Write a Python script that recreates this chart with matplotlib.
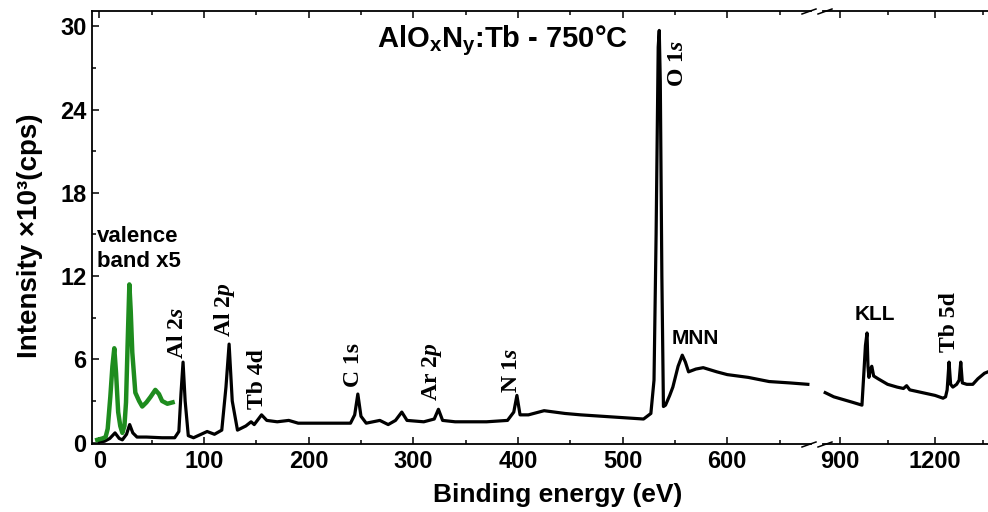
import matplotlib
matplotlib.use("Agg")
import matplotlib.pyplot as plt
from matplotlib.lines import Line2D
from matplotlib.ticker import MultipleLocator

plt.rcParams["font.family"] = "Liberation Sans"
plt.rcParams["font.weight"] = "bold"
plt.rcParams["mathtext.fontset"] = "custom"
plt.rcParams["mathtext.rm"] = "Liberation Sans:bold"
plt.rcParams["mathtext.bf"] = "Liberation Sans:bold"
plt.rcParams["mathtext.it"] = "Liberation Serif:bold:italic"

# espectro survey, tramo bajo (eV, cps x10^3)
low_ev = [0, 5, 10, 15, 19, 22, 26, 29, 32, 36, 45, 60, 72, 76, 78, 80, 82, 85, 90,
          103, 110, 117, 121, 124, 127, 132, 140, 145, 148, 155, 160, 170, 181, 190,
          210, 240, 244, 247, 250, 255, 268, 276, 283, 289, 294, 310, 320, 324, 328,
          340, 370, 390, 396, 399, 402, 410, 425, 445, 460, 480, 500, 520, 527, 530,
          532, 534, 535, 536, 537.5, 539, 541, 545, 548, 553, 557, 560, 563, 570, 577,
          590, 600, 620, 640, 660, 677]
low_int = [0.05, 0.1, 0.3, 0.7, 0.3, 0.2, 0.6, 1.3, 0.7, 0.4, 0.4, 0.35, 0.35, 0.8, 3.5, 5.8, 3.0, 0.5, 0.35,
           0.8, 0.6, 0.9, 4.0, 7.1, 3.0, 0.9, 1.2, 1.5, 1.3, 2.0, 1.6, 1.5, 1.6, 1.4,
           1.4, 1.4, 2.0, 3.5, 1.9, 1.4, 1.6, 1.3, 1.6, 2.2, 1.6, 1.5, 1.7, 2.4, 1.6,
           1.5, 1.5, 1.6, 2.2, 3.4, 2.0, 2.0, 2.3, 2.1, 2.0, 1.9, 1.8, 1.7, 2.1, 4.5,
           15.0, 28.5, 29.7, 26.0, 12.0, 2.6, 2.7, 3.4, 4.0, 5.5, 6.3, 5.8, 5.1, 5.3, 5.4,
           5.1, 4.9, 4.7, 4.4, 4.3, 4.2]

# tramo alto (despues del corte)
high_ev = [853, 880, 910, 940, 969, 975, 980, 985, 988, 991, 996, 1000, 1006, 1020, 1050,
           1080, 1100, 1110, 1120, 1160, 1200, 1225, 1233, 1238, 1244, 1249, 1256, 1268,
           1276, 1281, 1286, 1300, 1319, 1335, 1356, 1367]
high_int = [3.6, 3.3, 3.1, 2.9, 2.7, 5.0, 7.0, 7.9, 5.5, 4.7, 5.3, 5.5, 4.8, 4.6, 4.2,
            4.0, 3.9, 4.1, 3.8, 3.6, 3.4, 3.2, 3.3, 3.8, 5.8, 4.2, 4.0, 4.2,
            4.5, 5.8, 4.3, 4.2, 4.2, 4.6, 5.0, 5.1]

# banda de valencia x5
vb_ev = [-2, 3, 6, 8, 10.5, 12.5, 14.3, 16, 18, 20, 22, 24, 25.5, 27, 28.7, 30, 31.5,
         34.4, 38, 41, 45, 49, 53.5, 57, 60, 65, 70]
vb_int = [0.2, 0.3, 0.4, 1.0, 3.3, 5.5, 6.8, 5.0, 2.2, 1.2, 0.7, 1.2, 2.9, 7.0, 11.4, 9.5, 6.5,
          3.6, 3.0, 2.6, 2.9, 3.3, 3.8, 3.5, 3.0, 2.8, 2.9]

# etiquetas de picos: (texto, x, y)
low_peaks = [("Al 2$s$", 75, 6.0), ("Al 2$p$", 120, 7.6), ("Tb 4d", 151, 2.4),
             ("C 1s", 243, 4.0), ("Ar 2$p$", 318, 3.0), ("N 1$s$", 394, 3.6),
             ("O 1$s$", 552, 25.6)]
high_peaks = [("Tb 5d", 1244, 6.5)]

W, H = 988, 512
fig = plt.figure(figsize=(W / 100, H / 100), dpi=100)
ax1 = fig.add_axes([92 / W, 68 / H, (811 - 92) / W, 433 / H])
ax2 = fig.add_axes([823 / W, 68 / H, (W - 823) / W, 433 / H])

ax1.plot(low_ev, low_int, color="black", lw=2.3)
ax1.plot(vb_ev, vb_int, color="#1e8c1e", lw=3.2)
ax2.plot(high_ev, high_int, color="black", lw=2.3)

for ax in (ax1, ax2):
    ax.set_ylim(-0.1, 31.1)
    for s in ax.spines.values():
        s.set_linewidth(1.3)
    ax.tick_params(which="both", direction="in", top=True, labelsize=17, width=1.1)
    ax.tick_params(which="major", length=5, pad=4)
    ax.tick_params(which="minor", length=3)

ax1.set_xlim(-7, 680)
ax1.xaxis.set_major_locator(MultipleLocator(100))
ax1.xaxis.set_minor_locator(MultipleLocator(50))
ax1.yaxis.set_major_locator(MultipleLocator(6))
ax1.yaxis.set_minor_locator(MultipleLocator(3))
ax1.spines["right"].set_visible(False)

ax2.set_xlim(846, 1367)
ax2.xaxis.set_major_locator(MultipleLocator(300))
ax2.xaxis.set_minor_locator(MultipleLocator(150))
ax2.spines["left"].set_visible(False)
ax2.spines["right"].set_visible(False)
ax2.tick_params(axis="y", which="both", left=False, labelleft=False)

# marcas de corte del eje
for yb in (444, 11):
    for x0 in (802, 818):
        fig.add_artist(Line2D([x0 / W, (x0 + 14) / W], [1 - (yb + 3) / H, 1 - (yb - 2) / H],
                              transform=fig.transFigure, color="black", lw=1.1))

for txt, x, y in low_peaks:
    ax1.text(x, y, txt, rotation=90, ha="center", va="bottom", fontsize=17,
             family="Liberation Serif", weight="bold")
for txt, x, y in high_peaks:
    ax2.text(x, y, txt, rotation=90, ha="center", va="bottom", fontsize=17,
             family="Liberation Serif", weight="bold")

ax1.text(569, 7.5, "MNN", ha="center", va="center", fontsize=15)
ax2.text(1010, 9.2, "KLL", ha="center", va="center", fontsize=15)
ax1.text(-2, 15.6, "valence\nband x5", ha="left", va="top", fontsize=16, linespacing=1.25)

fig.text(503 / W, 1 - 48 / H, r"AlO$_\mathbf{x}$N$_\mathbf{y}$:Tb - 750°C", ha="center",
         va="baseline", fontsize=21)
fig.text(558 / W, 1 - 495 / H, "Binding energy (eV)", ha="center", va="center", fontsize=19)
fig.text(30 / W, 1 - 236 / H, "Intensity ×10³(cps)", ha="center", va="center",
         rotation=90, fontsize=20)

fig.savefig("out.png", dpi=100)
